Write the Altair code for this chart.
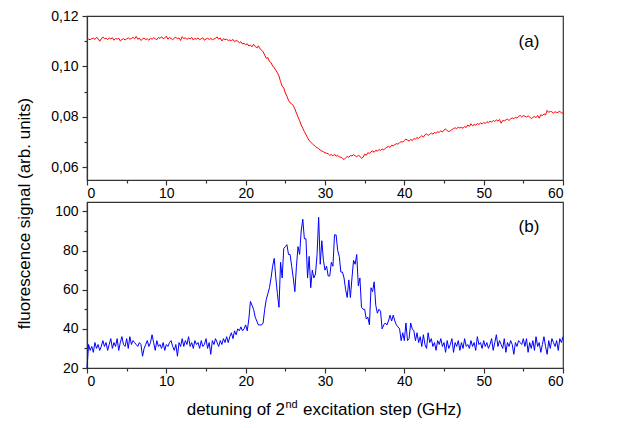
import altair as alt
import pandas as pd

FONT = "Liberation Sans"

# detuning grid (GHz), 0.2 GHz steps
detuning = [round(i * 0.2, 1) for i in range(301)]

# (a) fluorescence signal, arb. units
signal_a = [
    0.1105, 0.1108, 0.1106, 0.1110, 0.1112, 0.1107, 0.1115, 0.1111, 0.1100, 0.1109,
    0.1117, 0.1110, 0.1112, 0.1106, 0.1113, 0.1109, 0.1114, 0.1104, 0.1111, 0.1108,
    0.1112, 0.1101, 0.1107, 0.1110, 0.1105, 0.1109, 0.1113, 0.1108, 0.1111, 0.1115,
    0.1110, 0.1119, 0.1108, 0.1112, 0.1103, 0.1109, 0.1113, 0.1106, 0.1110, 0.1104,
    0.1112, 0.1108, 0.1114, 0.1110, 0.1106, 0.1115, 0.1111, 0.1118, 0.1110, 0.1113,
    0.1120, 0.1108, 0.1115, 0.1111, 0.1106, 0.1112, 0.1116, 0.1109, 0.1113, 0.1103,
    0.1118, 0.1110, 0.1114, 0.1107, 0.1112, 0.1109, 0.1115, 0.1105, 0.1111, 0.1108,
    0.1113, 0.1106, 0.1110, 0.1114, 0.1104, 0.1109, 0.1112, 0.1107, 0.1111, 0.1106,
    0.1109, 0.1112, 0.1117, 0.1108, 0.1113, 0.1101, 0.1110, 0.1106, 0.1108, 0.1103,
    0.1105, 0.1102, 0.1107, 0.1098, 0.1103, 0.1100, 0.1094, 0.1098, 0.1089, 0.1092,
    0.1086, 0.1090, 0.1081, 0.1085, 0.1078, 0.1088, 0.1080, 0.1073, 0.1082, 0.1070,
    0.1065, 0.1058, 0.1045, 0.1032, 0.1035, 0.1020, 0.1015, 0.1002, 0.0995, 0.0985,
    0.0975, 0.0962, 0.0940, 0.0922, 0.0915, 0.0895, 0.0882, 0.0866, 0.0856, 0.0852,
    0.0845, 0.0832, 0.0815, 0.0800, 0.0785, 0.0768, 0.0755, 0.0742, 0.0730, 0.0718,
    0.0706, 0.0700, 0.0694, 0.0688, 0.0683, 0.0678, 0.0674, 0.0669, 0.0665, 0.0662,
    0.0658, 0.0656, 0.0654, 0.0648, 0.0651, 0.0646, 0.0652, 0.0644, 0.0648, 0.0641,
    0.0640, 0.0636, 0.0631, 0.0638, 0.0643, 0.0640, 0.0647, 0.0645, 0.0650, 0.0646,
    0.0642, 0.0648, 0.0644, 0.0636, 0.0640, 0.0652, 0.0648, 0.0658, 0.0655, 0.0662,
    0.0665, 0.0660, 0.0668, 0.0664, 0.0671, 0.0667, 0.0673, 0.0669, 0.0676, 0.0680,
    0.0683, 0.0679, 0.0688, 0.0685, 0.0690, 0.0694, 0.0692, 0.0698, 0.0702, 0.0700,
    0.0707, 0.0712, 0.0708, 0.0704, 0.0711, 0.0706, 0.0714, 0.0712, 0.0718, 0.0715,
    0.0721, 0.0726, 0.0720, 0.0729, 0.0733, 0.0727, 0.0731, 0.0736, 0.0732, 0.0738,
    0.0736, 0.0741, 0.0739, 0.0745, 0.0740, 0.0748, 0.0752, 0.0746, 0.0742, 0.0745,
    0.0750, 0.0754, 0.0757, 0.0753, 0.0760, 0.0756, 0.0759, 0.0755, 0.0762, 0.0758,
    0.0768, 0.0762, 0.0773, 0.0765, 0.0770, 0.0767, 0.0774, 0.0770, 0.0776, 0.0772,
    0.0778, 0.0774, 0.0781, 0.0777, 0.0783, 0.0779, 0.0786, 0.0782, 0.0788, 0.0784,
    0.0790, 0.0775, 0.0786, 0.0784, 0.0788, 0.0791, 0.0786, 0.0792, 0.0796, 0.0793,
    0.0799, 0.0795, 0.0802, 0.0806, 0.0800, 0.0805, 0.0803, 0.0799, 0.0804, 0.0800,
    0.0793, 0.0798, 0.0802, 0.0797, 0.0806, 0.0795, 0.0809, 0.0805, 0.0812, 0.0808,
    0.0826, 0.0818, 0.0822, 0.0820, 0.0815, 0.0821, 0.0817, 0.0819, 0.0822, 0.0816,
    0.0815,
]

# (b) fluorescence signal, counts
signal_b = [
    20, 32, 29, 31, 28, 33, 30, 32, 29, 31,
    34, 31, 33, 29, 32, 35, 30, 33, 31, 35,
    29, 33, 36, 32, 31, 35, 30, 36, 32, 34,
    33, 32, 31, 33, 32, 26, 30, 32, 34, 31,
    33, 37, 33, 29, 34, 31, 32, 30, 33, 29,
    32, 31, 33, 34, 31, 29, 32, 26, 33, 31,
    35, 31, 34, 32, 36, 31, 33, 30, 34, 32,
    33, 30, 34, 31, 32, 35, 30, 33, 27, 34,
    32, 35, 33, 31, 34, 32, 35, 33, 36, 33,
    36, 38, 35, 39, 37, 40, 39, 41, 39, 40,
    42, 39, 45, 54, 52, 50, 46, 44, 42, 42,
    42, 43, 50, 55, 58, 61, 66, 72, 76, 66,
    58, 51, 74, 66, 81, 82, 83, 78, 78, 72,
    66, 59, 72, 82, 78, 90, 96, 86, 86, 66,
    77, 61, 70, 66, 68, 78, 97, 73, 85, 75,
    70, 72, 67, 67, 74, 72, 88, 88, 80, 77,
    69, 69, 66, 60, 56, 65, 56, 66, 75, 73,
    78, 62, 66, 51, 50, 50, 45, 46, 42, 61,
    59, 64, 52, 48, 50, 49, 40, 42, 43, 42,
    44, 47, 44, 47, 44, 42, 41, 40, 34, 38,
    34, 43, 34, 35, 43, 40, 39, 34, 38, 33,
    36, 31, 37, 32, 30, 38, 33, 35, 31, 33,
    29, 34, 32, 35, 31, 33, 28, 34, 30, 32,
    35, 28, 33, 31, 34, 29, 33, 30, 35, 31,
    32, 30, 34, 31, 33, 29, 36, 32, 33, 30,
    34, 31, 33, 30, 32, 35, 29, 33, 37, 31,
    34, 32, 30, 35, 28, 33, 31, 34, 32, 27,
    33, 31, 34, 33, 32, 35, 31, 35, 28, 33,
    30, 34, 29, 36, 31, 33, 28, 32, 36, 31,
    27, 34, 30, 35, 33, 31, 34, 29, 35, 33,
    36,
]

x_ticks = [0, 5, 10, 15, 20, 25, 30, 35, 40, 45, 50, 55, 60]
ya_ticks = [0.06, 0.07, 0.08, 0.09, 0.10, 0.11, 0.12]
yb_ticks = [20, 30, 40, 50, 60, 70, 80, 90, 100]
panel_labels = ["(a)", "(b)"]
x_title_parts = ["detuning of 2", "nd", "excitation step (GHz)"]
y_title = "fluorescence signal (arb. units)"

W = 476
H_TOP, H_BOT = 164, 166
MAJ, MIN = 5, 3

df_a = pd.DataFrame({"detuning": detuning, "signal": signal_a})
df_b = pd.DataFrame({"detuning": detuning, "signal": signal_b})

x_enc = alt.X(
    "detuning:Q",
    scale=alt.Scale(domain=[0, 60], nice=False, zero=False),
    axis=alt.Axis(
        values=x_ticks, title=None, grid=False,
        labelExpr="datum.value % 10 == 0 ? datum.label : ''",
        tickSize={"condition": {"test": "datum.value % 10 != 0", "value": MIN}, "value": MAJ},
    ),
)

line_a = alt.Chart(df_a).mark_line(color="#ff0000", strokeWidth=1).encode(
    x=x_enc,
    y=alt.Y(
        "signal:Q",
        scale=alt.Scale(domain=[0.0550, 0.12], nice=False, zero=False),
        axis=alt.Axis(
            values=ya_ticks, title=None, grid=False,
            labelExpr="round(datum.value*100) % 2 == 1 ? '' : replace(format(datum.value, '.2f'), '.', ',')",
            tickSize={"condition": {"test": "round(datum.value*100) % 2 == 1", "value": MIN}, "value": MAJ},
        ),
    ),
)
lab_a = alt.Chart(pd.DataFrame({"t": [panel_labels[0]]})).mark_text(
    font=FONT, fontSize=17, color="black", align="center", baseline="middle"
).encode(x=alt.value(442), y=alt.value(26), text="t:N")
top = alt.layer(line_a, lab_a).properties(width=W, height=H_TOP)

line_b = alt.Chart(df_b).mark_line(color="#0000ff", strokeWidth=1).encode(
    x=x_enc,
    y=alt.Y(
        "signal:Q",
        scale=alt.Scale(domain=[20, 104.8], nice=False, zero=False),
        axis=alt.Axis(
            values=yb_ticks, title=None, grid=False,
            labelExpr="datum.value % 20 == 0 ? datum.label : ''",
            tickSize={"condition": {"test": "datum.value % 20 != 0", "value": MIN}, "value": MAJ},
        ),
    ),
)
lab_b = alt.Chart(pd.DataFrame({"t": [panel_labels[1]]})).mark_text(
    font=FONT, fontSize=17, color="black", align="center", baseline="middle"
).encode(x=alt.value(442), y=alt.value(25), text="t:N")

TY = 213
t1 = alt.Chart(pd.DataFrame({"t": [x_title_parts[0]]})).mark_text(
    font=FONT, fontSize=17, color="black", align="right", baseline="alphabetic"
).encode(x=alt.value(198), y=alt.value(TY), text="t:N")
t2 = alt.Chart(pd.DataFrame({"t": [x_title_parts[1]]})).mark_text(
    font=FONT, fontSize=11, color="black", align="left", baseline="alphabetic"
).encode(x=alt.value(198.5), y=alt.value(TY - 7), text="t:N")
t3 = alt.Chart(pd.DataFrame({"t": [x_title_parts[2]]})).mark_text(
    font=FONT, fontSize=17, color="black", align="left", baseline="alphabetic"
).encode(x=alt.value(216), y=alt.value(TY), text="t:N")

bottom = alt.layer(line_b, lab_b, t1, t2, t3).properties(width=W, height=H_BOT)

chart = (
    alt.vconcat(top, bottom, spacing=0)
    .properties(
        title=alt.TitleParams(
            text=y_title, orient="left", anchor="middle", font=FONT,
            fontSize=17, fontWeight="normal", color="black", offset=16,
        ),
        padding={"left": 8, "top": 0, "right": 5, "bottom": 5},
    )
    .configure_view(stroke="#333333", strokeWidth=1.2)
    .configure_axis(
        labelFont=FONT, labelFontSize=14, labelColor="black",
        domainColor="#333333", tickColor="#333333", domainWidth=1.2,
        tickWidth=1.2,
    )
    .configure_axisX(labelPadding=1)
    .configure_axisY(labelPadding=4)
)

chart.save("out.html", embed_options={"renderer": "svg", "actions": False})
